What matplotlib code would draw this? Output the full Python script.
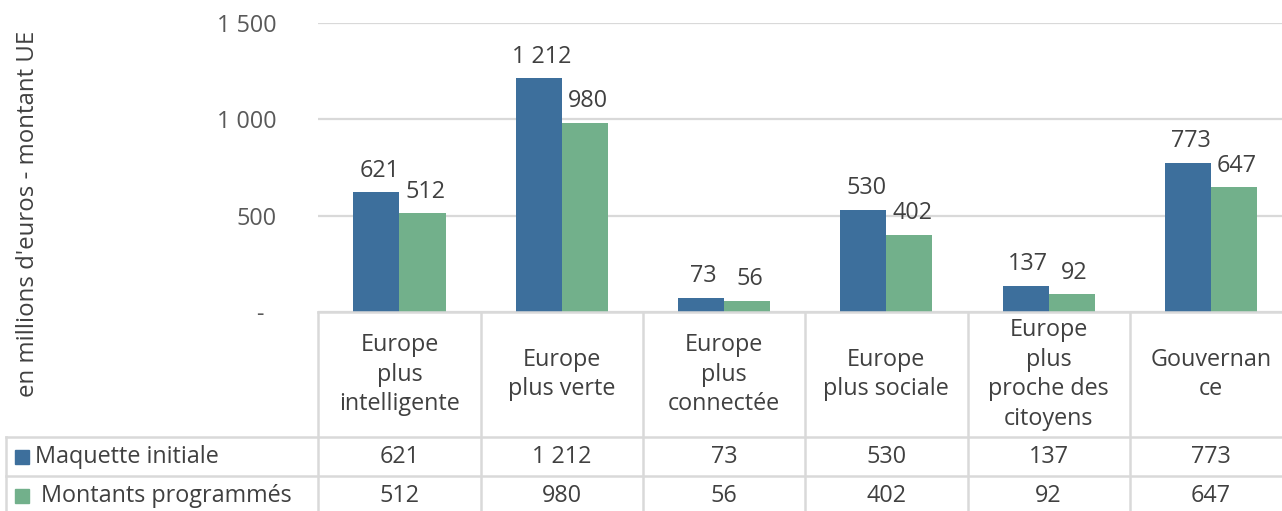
import matplotlib
matplotlib.use("Agg")
import matplotlib.pyplot as plt
from matplotlib.patches import Rectangle
import numpy as np

categories = ["Europe\nplus\nintelligente", "Europe\nplus verte", "Europe\nplus\nconnectée",
              "Europe\nplus sociale", "Europe\nplus\nproche des\ncitoyens", "Gouvernan\nce"]
series_names = ["Maquette initiale", "Montants programmés"]
maquette = [621, 1212, 73, 530, 137, 773]
programmes = [512, 980, 56, 402, 92, 647]
yticks = [0, 500, 1000, 1500]
ytick_labels = ["-  ", "500", "1 000", "1 500"]
ylabel = "en millions d'euros - montant UE"

BLUE = "#3D6F9C"
GREEN = "#72B08B"
GRID = "#D9D9D9"
TXT = "#404040"
FONT = "Open Sans"
FS = 16.8

plt.rcParams['font.family'] = [FONT, 'DejaVu Sans']

W, H = 1282, 511
fig = plt.figure(figsize=(W / 100, H / 100), dpi=100)

def fx(px):
    return px / W

def fy(py):
    return 1 - py / H

x_left = 318.3
col_w = 162.3
y_top = 23
y_zero = 312
ax = fig.add_axes([fx(x_left), fy(y_zero), fx(col_w * 6), (y_zero - y_top) / H])
ax.set_xlim(-0.5, 5.5)
ax.set_ylim(0, 1500)

x = np.arange(len(categories))
bw = 0.284
b1 = ax.bar(x - bw / 2, maquette, bw, color=BLUE, zorder=3)
b2 = ax.bar(x + bw / 2, programmes, bw, color=GREEN, zorder=3)

def fmt(v):
    return f"{v:,}".replace(",", " ")

for bars, vals in ((b1, maquette), (b2, programmes)):
    for r, v in zip(bars, vals):
        ax.annotate(fmt(v), (r.get_x() + r.get_width() / 2, v), xytext=(2, 7),
                    textcoords="offset points", ha="center", va="bottom",
                    fontsize=FS, color=TXT)

ax.set_yticks(yticks)
ax.set_yticklabels(ytick_labels)
ax.tick_params(axis="y", length=0, pad=30, labelsize=FS, labelcolor="#595959")
ax.set_xticks([])
ax.grid(axis="y", color=GRID, lw=1.6, zorder=0)
for s in ax.spines.values():
    s.set_visible(False)

# y label
fig.text(fx(28), fy(214), ylabel, rotation=90, ha="center", va="center",
         fontsize=17.3, color=TXT)

# data table lines (figure coords)
lw = 1.8
row_y = [312, 437, 476, 515]
legend_left = 6
def hline(y, x0, x1):
    fig.add_artist(plt.Line2D([fx(x0), fx(x1)], [fy(y), fy(y)], color=GRID, lw=lw, zorder=5))
def vline(xp, y0, y1):
    fig.add_artist(plt.Line2D([fx(xp), fx(xp)], [fy(y0), fy(y1)], color=GRID, lw=lw, zorder=5))

hline(row_y[0], x_left, x_left + 6 * col_w)
hline(row_y[1], legend_left, x_left + 6 * col_w)
hline(row_y[2], legend_left, x_left + 6 * col_w)
hline(row_y[3], legend_left, x_left + 6 * col_w)
vline(legend_left, row_y[1], row_y[3])
for i in range(7):
    vline(x_left + i * col_w, row_y[0], row_y[3])

# header texts
for i, c in enumerate(categories):
    fig.text(fx(x_left + (i + 0.5) * col_w), fy((row_y[0] + row_y[1]) / 2), c,
             ha="center", va="center", fontsize=FS, color=TXT, linespacing=1.3,
             multialignment="center")

# rows
for r, (name, vals, col) in enumerate(zip(series_names, (maquette, programmes), (BLUE, GREEN))):
    yc = (row_y[r + 1] + row_y[r + 2]) / 2
    fig.add_artist(Rectangle((fx(15), fy(yc + 7)), fx(14), 14 / H, color=col,
                             transform=fig.transFigure))
    fig.text(fx(35 if r == 0 else 41), fy(yc), name, ha="left", va="center",
             fontsize=FS, color=TXT)
    for i, v in enumerate(vals):
        fig.text(fx(x_left + (i + 0.5) * col_w), fy(yc), fmt(v), ha="center", va="center",
                 fontsize=FS, color=TXT)

fig.savefig("out.png", dpi=100)
